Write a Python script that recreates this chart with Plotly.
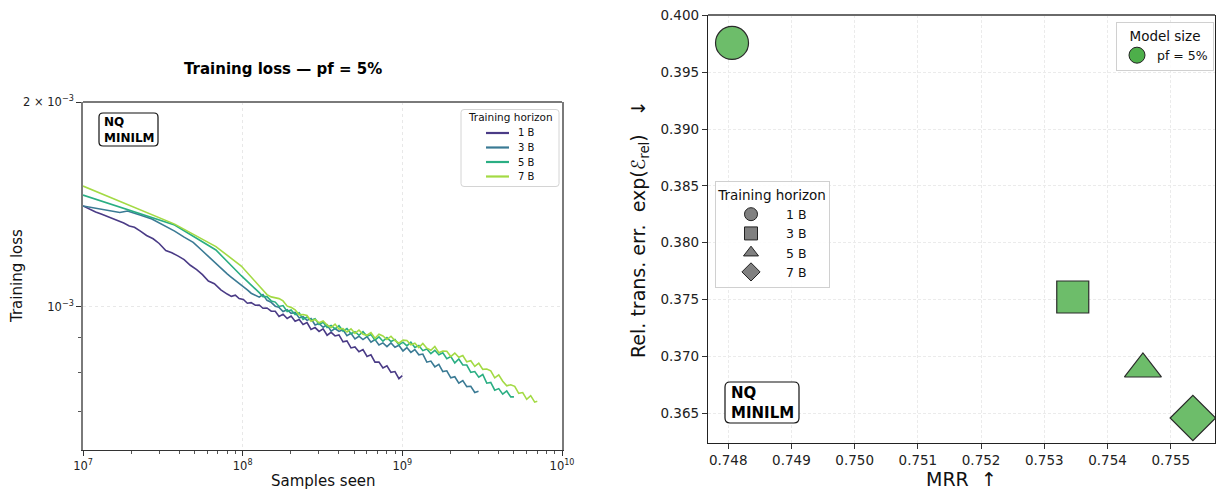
import plotly.graph_objects as go

FONT = "DejaVu Sans"
W, H = 1216, 491

# ---------------- training-loss curves (samples in millions, loss in 1e-3) ----------------
horizon_labels = ["1 B", "3 B", "5 B", "7 B"]
curve_colors = ["#4a3b86", "#3a7a94", "#2aae83", "#a3da44"]

# shared dense logging grid (millions of samples)
grid_m = [80, 85, 90, 95, 101, 107, 113, 120, 127, 134, 142, 151, 160, 169, 179, 190,
          201, 213, 226, 239, 253, 268, 284, 301, 319, 338, 358, 379, 401, 425, 450, 477,
          505, 535, 567, 601, 636, 674, 714, 756, 801, 849, 899, 952, 1009, 1068, 1131,
          1198, 1269, 1344, 1424, 1509, 1598, 1693, 1793, 1899, 2012, 2131, 2258, 2392,
          2533, 2684, 2843, 3011, 3190, 3379, 3579, 3791, 4016, 4254, 4507, 4774, 5057,
          5357, 5675, 6011, 6367, 6745]

samples_1b = [10, 11, 12, 13, 14, 15, 16.5, 18, 19.5, 21, 23, 25, 27.5, 30, 33, 36, 39.5,
              43, 47, 51.5, 56, 61, 66.5, 73] + grid_m[:44] + [1000]
loss_1b = [1.406, 1.390, 1.378, 1.368, 1.359, 1.350, 1.336, 1.327, 1.314, 1.308, 1.290,
           1.272, 1.258, 1.238, 1.209, 1.200, 1.186, 1.172, 1.150, 1.133, 1.114, 1.090,
           1.080, 1.058,
           1.043, 1.035, 1.039, 1.027, 1.024, 1.011, 1.013, 1.004, 1.005, 0.994, 0.995,
           0.984, 0.984, 0.967, 0.974, 0.960, 0.968, 0.951, 0.957, 0.941, 0.947, 0.925,
           0.931, 0.919, 0.927, 0.907, 0.916, 0.905, 0.908, 0.887, 0.890, 0.869, 0.872,
           0.858, 0.864, 0.844, 0.849, 0.828, 0.828, 0.812, 0.818, 0.800, 0.802, 0.783,
           0.791]

samples_3b = [10, 12, 14.5, 17, 19, 20, 23, 27, 32, 37.5, 43, 49, 55, 61, 68, 75] \
    + grid_m[:63] + [3000]
loss_3b = [1.406, 1.395, 1.385, 1.375, 1.382, 1.376, 1.362, 1.345, 1.318, 1.291, 1.265,
           1.243, 1.212, 1.185, 1.157, 1.130,
           1.117, 1.104, 1.093, 1.082, 1.068, 1.058, 1.046, 1.040, 1.032, 1.041, 1.021,
           1.014, 1.001, 0.997, 0.983, 0.989, 0.977, 0.980, 0.962, 0.966, 0.954, 0.960,
           0.939, 0.944, 0.932, 0.940, 0.920, 0.928, 0.919, 0.924, 0.906, 0.913, 0.896,
           0.904, 0.894, 0.903, 0.886, 0.894, 0.878, 0.884, 0.873, 0.884, 0.871, 0.877,
           0.860, 0.870, 0.856, 0.864, 0.849, 0.851, 0.828, 0.831, 0.815, 0.822, 0.802,
           0.804, 0.785, 0.788, 0.771, 0.778, 0.762, 0.763, 0.747,
           0.750]

samples_5b = [10, 37.5, 68, 98] + grid_m[8:72] + [5000]
loss_5b = [1.459, 1.318, 1.211, 1.110,
           1.048, 1.034, 1.034, 1.019, 1.015, 1.000, 1.003, 0.983, 0.988, 0.973, 0.979,
           0.957, 0.965, 0.954, 0.959, 0.941, 0.948, 0.931, 0.938, 0.927, 0.937, 0.920,
           0.928, 0.912, 0.918, 0.907, 0.918, 0.904, 0.909, 0.892, 0.902, 0.889, 0.900,
           0.888, 0.894, 0.878, 0.886, 0.875, 0.886, 0.870, 0.876, 0.861, 0.866, 0.852,
           0.862, 0.849, 0.855, 0.838, 0.844, 0.826, 0.837, 0.820, 0.820, 0.800, 0.802,
           0.787, 0.794, 0.771, 0.773, 0.753, 0.757, 0.743, 0.751, 0.736,
           0.736]

samples_7b = [10, 37.5, 68, 98] + grid_m[8:78] + [7000]
loss_7b = [1.504, 1.322, 1.225, 1.147,
           1.072, 1.055, 1.041, 1.033, 1.031, 1.027, 1.019, 1.001, 0.997,
           0.989, 0.972, 0.973, 0.970, 0.951, 0.957, 0.946, 0.952, 0.939, 0.931, 0.942,
           0.926, 0.928, 0.917, 0.927, 0.913, 0.923, 0.910, 0.907, 0.915, 0.898, 0.910,
           0.905, 0.894, 0.904, 0.891, 0.883, 0.892, 0.891, 0.878, 0.883, 0.870, 0.882,
           0.868, 0.862, 0.873, 0.855, 0.860, 0.859, 0.844, 0.854, 0.842, 0.847, 0.829,
           0.832, 0.816, 0.825, 0.808, 0.809, 0.804, 0.785, 0.793, 0.776, 0.764, 0.767,
           0.763, 0.745, 0.747, 0.730, 0.739, 0.723,
           0.725]

curves = [(samples_1b, loss_1b), (samples_3b, loss_3b),
          (samples_5b, loss_5b), (samples_7b, loss_7b)]

# ---------------- MRR vs relative transfer error ----------------
mrr = [0.74806, 0.75345, 0.75456, 0.75535]
rel_err = [0.3976, 0.37522, 0.36888, 0.36456]
horizon_symbols = ["circle", "square", "triangle-up", "diamond"]
symbol_sizes = [33, 32, 32, 35]
model_label = "pf = 5%"
model_color = "#4daf4a"
point_fill = "#6dbd6a"

# ---------------- layout geometry (pixels) ----------------
L_X0, L_X1, L_Y0, L_Y1 = 83, 562, 102, 450      # left panel box
R_X0, R_X1, R_Y0, R_Y1 = 708, 1215, 15, 443      # right panel box


def px(x):
    return x / W


def py(y):
    return (H - y) / H


fig = go.Figure()

for (xs, ys), lab, col in zip(curves, horizon_labels, curve_colors):
    fig.add_trace(go.Scatter(
        x=[v * 1e6 for v in xs], y=[v * 1e-3 for v in ys],
        mode="lines", name=lab, line=dict(color=col, width=1.6),
        xaxis="x", yaxis="y", showlegend=False))

fig.add_trace(go.Scatter(
    x=mrr, y=rel_err, mode="markers", showlegend=False,
    marker=dict(symbol=horizon_symbols, size=symbol_sizes, color=point_fill,
                opacity=1, line=dict(color="#2a2a2a", width=1.2)),
    xaxis="x2", yaxis="y2"))

# legend entries for the right panel
fig.add_trace(go.Scatter(
    x=[None], y=[None], mode="markers", name=model_label, legend="legend2",
    marker=dict(symbol="circle", size=17, color=model_color,
                line=dict(color="#222222", width=1)),
    xaxis="x2", yaxis="y2"))
for lab, sym in zip(horizon_labels, horizon_symbols):
    fig.add_trace(go.Scatter(
        x=[None], y=[None], mode="markers", name=lab, legend="legend3",
        marker=dict(symbol=sym, size=13 if sym != "diamond" else 14, color="#808080",
                    line=dict(color="#222222", width=1)),
        xaxis="x2", yaxis="y2"))

x_minor = [m * 10 ** e for e in (7, 8, 9) for m in range(2, 10)]

fig.update_layout(
    width=W, height=H, margin=dict(l=0, r=0, t=0, b=0, autoexpand=False),
    paper_bgcolor="white", plot_bgcolor="white",
    font=dict(family=FONT, color="#111111"),
    xaxis=dict(
        domain=[px(L_X0), px(L_X1)], anchor="y", type="log", range=[7, 10],
        automargin=False,
        tickvals=[1e7, 1e8, 1e9, 1e10],
        ticktext=["10<sup>7</sup>", "10<sup>8</sup>", "10<sup>9</sup>", "10<sup>10</sup>"],
        ticks="outside", ticklen=5, tickcolor="#333", tickfont=dict(size=11.5, color="#222"),
        showgrid=True, gridcolor="#e8e8e8", griddash="dot", gridwidth=1,
        showline=True, linecolor="#333333", linewidth=1.2, zeroline=False,
        minor=dict(tickvals=x_minor, ticks="outside", ticklen=3, tickcolor="#555",
                   showgrid=False)),
    yaxis=dict(
        domain=[py(L_Y1), py(L_Y0)], anchor="x", type="log",
        range=[-3.2113, -2.69897], automargin=False,
        tickvals=[1e-3, 2e-3],
        ticktext=["10<sup>−3</sup>", "2 × 10<sup>−3</sup>"],
        ticks="outside", ticklen=5, tickcolor="#333", tickfont=dict(size=11.5, color="#222"),
        showgrid=True, gridcolor="#e8e8e8", griddash="dot", gridwidth=1,
        showline=True, linecolor="#7a7a7a", linewidth=1.8, mirror=True,
        zeroline=False,
        minor=dict(tickvals=[7e-4, 8e-4, 9e-4], ticks="outside", ticklen=3,
                   tickcolor="#555", showgrid=False)),
    xaxis2=dict(
        domain=[px(R_X0), px(R_X1)], anchor="y2", range=[0.74768, 0.75570],
        automargin=False,
        tick0=0.748, dtick=0.001, tickformat=".3f",
        ticks="outside", ticklen=5, tickcolor="#333", tickfont=dict(size=13.5, color="#222"),
        showgrid=True, gridcolor="#ebebeb", griddash="3px,2px", gridwidth=0.8,
        showline=True, linecolor="#222222", linewidth=1.3, zeroline=False),
    yaxis2=dict(
        domain=[py(R_Y1), py(R_Y0)], anchor="x2", range=[0.36236, 0.40006],
        automargin=False,
        tick0=0.365, dtick=0.005, tickformat=".3f",
        ticks="outside", ticklen=5, tickcolor="#333", tickfont=dict(size=13.5, color="#222"),
        showgrid=True, gridcolor="#ebebeb", griddash="3px,2px", gridwidth=0.8,
        showline=True, linecolor="#222222", linewidth=1.3, mirror=True,
        zeroline=False),
    legend2=dict(
        x=px(1214), y=py(22), xanchor="right", yanchor="top",
        bgcolor="rgba(255,255,255,0.85)", bordercolor="#d0d0d0", borderwidth=1,
        font=dict(size=12.5, family=FONT),
        title=dict(text="Model size", side="top center",
                   font=dict(size=13.5, family=FONT)),
        itemwidth=30),
    legend3=dict(
        x=px(715), y=py(181), xanchor="left", yanchor="top",
        bgcolor="rgba(255,255,255,0.85)", bordercolor="#d0d0d0", borderwidth=1,
        font=dict(size=12.5, family=FONT),
        title=dict(text="Training horizon", side="top center",
                   font=dict(size=13.5, family=FONT)),
        itemwidth=60, tracegroupgap=0),
)

# top spines drawn a shade lighter than the rest of the frame
fig.add_shape(type="line", xref="paper", yref="paper",
              x0=px(L_X0), x1=px(L_X1), y0=py(L_Y0), y1=py(L_Y0),
              line=dict(color="#7a7a7a", width=1.8))
fig.add_shape(type="line", xref="paper", yref="paper",
              x0=px(R_X0), x1=px(R_X1), y0=py(R_Y0), y1=py(R_Y0),
              line=dict(color="#6a6a6a", width=1.8))


def rounded_box(cx, cy, w, h, r, edge="#111111", width=1.2, fill="white"):
    hw, hh = w / 2, h / 2
    path = (f"M {-hw + r},{-hh} L {hw - r},{-hh} Q {hw},{-hh} {hw},{-hh + r} "
            f"L {hw},{hh - r} Q {hw},{hh} {hw - r},{hh} L {-hw + r},{hh} "
            f"Q {-hw},{hh} {-hw},{hh - r} L {-hw},{-hh + r} Q {-hw},{-hh} {-hw + r},{-hh} Z")
    fig.add_shape(type="path", xref="paper", yref="paper",
                  xsizemode="pixel", ysizemode="pixel",
                  xanchor=px(cx), yanchor=py(cy), path=path,
                  fillcolor=fill, line=dict(color=edge, width=width), layer="above")


rounded_box(128.5, 129.5, 59, 33, 4)
rounded_box(762, 402.5, 74, 41, 5)

# legend of the loss panel: framed box, title, one line sample per horizon
rounded_box(510, 148, 98, 77, 3, edge="#d4d4d4", width=1, fill="rgba(255,255,255,0.85)")
legend_rows = [133, 147.5, 162, 176.5]
for row_y, lab, col in zip(legend_rows, horizon_labels, curve_colors):
    fig.add_shape(type="line", xref="paper", yref="paper",
                  x0=px(486), x1=px(509), y0=py(row_y), y1=py(row_y),
                  line=dict(color=col, width=2.2), layer="above")
    fig.add_annotation(xref="paper", yref="paper", showarrow=False, text=lab,
                       x=px(516), y=py(row_y), xanchor="left", yanchor="middle",
                       font=dict(size=10, family=FONT, color="#111"))
fig.add_annotation(xref="paper", yref="paper", showarrow=False, text="Training horizon",
                   x=px(510), y=py(117.5), xanchor="center", yanchor="middle",
                   font=dict(size=10.5, family=FONT, color="#111"))

annotations = [
    dict(text="<b>NQ<br>MINILM</b>", x=px(102), y=py(129.5), xanchor="left",
         yanchor="middle", align="left", font=dict(size=12, family=FONT, color="#000")),
    dict(text="<b>NQ<br>MINILM</b>", x=px(729), y=py(402.5), xanchor="left",
         yanchor="middle", align="left", font=dict(size=15, family=FONT, color="#000")),
    dict(text="<b>Training loss — pf = 5%</b>", x=px(283), y=py(69), xanchor="center",
         yanchor="middle", font=dict(size=15, family=FONT, color="#000")),
    dict(text="Samples seen", x=px(323), y=py(481), xanchor="center", yanchor="middle",
         font=dict(size=15, family=FONT)),
    dict(text="Training loss", x=px(17), y=py(276), xanchor="center", yanchor="middle",
         textangle=-90, font=dict(size=15, family=FONT)),
    dict(text="MRR  ↑", x=px(961), y=py(479), xanchor="center", yanchor="middle",
         font=dict(size=19, family=FONT)),
    dict(text="Rel. trans. err.\u00a0\u00a0exp(ℰ<sub>rel</sub>)\u00a0\u00a0\u00a0↓",
         x=px(640), y=py(229), xanchor="center", yanchor="middle", textangle=-90,
         font=dict(size=19, family=FONT)),
]
for a in annotations:
    fig.add_annotation(xref="paper", yref="paper", showarrow=False, **a)

fig.write_html("out.html")
